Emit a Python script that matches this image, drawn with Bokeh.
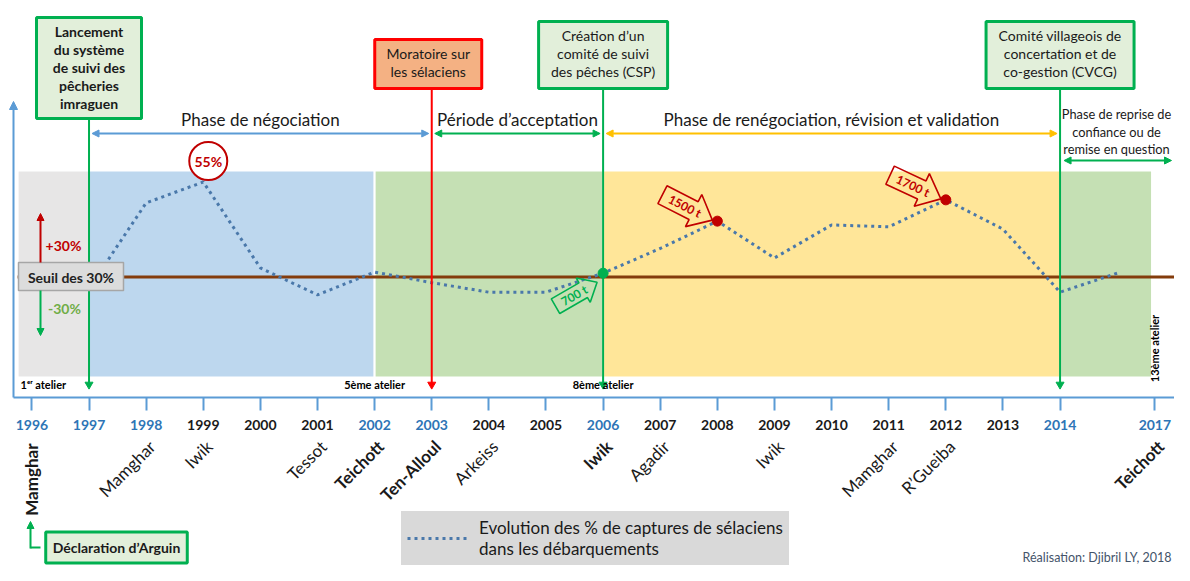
import math
from bokeh.plotting import figure
from bokeh.models import (Range1d, ColumnDataSource, LabelSet, Label, Arrow,
                          NormalHead, FixedTicker, Legend, LegendItem)
from bokeh.core.properties import value
from bokeh.embed import file_html
from bokeh.resources import INLINE

# ------------------------------------------------------------------ data
YEARS = [1997, 1998, 1999, 2000, 2001, 2002, 2003, 2004, 2005, 2006,
         2007, 2008, 2009, 2010, 2011, 2012, 2013, 2014, 2015]
SHARE_PCT = [27.0, 49.5, 55.0, 32.4, 25.3, 31.3, 28.5, 26.0, 26.0, 31.0,
             37.5, 44.7, 35.0, 43.7, 43.2, 50.3, 42.6, 26.0, 31.0]
THRESHOLD = 30
SERIES_LABEL = "Evolution des % de captures de sélaciens\ndans les débarquements"

TICK_YEARS = list(range(1996, 2015)) + [2017]
TICK_BLUE = [1996, 1997, 1998, 2002, 2003, 2006, 2014, 2017]

SITE_YEARS = [1996, 1998, 1999, 2001, 2002, 2003, 2004, 2006, 2007, 2009, 2011, 2012, 2017]
SITE_NAMES = ["Mamghar", "Mamghar", "Iwik", "Tessot", "Teichott", "Ten-Alloul", "Arkeiss",
              "Iwik", "Agadir", "Iwik", "Mamghar", "R’Gueiba", "Teichott"]
SITE_BOLD = [1, 0, 0, 0, 1, 1, 0, 1, 0, 0, 0, 0, 1]

PEAK_YEAR, PEAK_LABEL = 1999, "55%"
TONNAGE_YEARS = [2006, 2008, 2012]
TONNAGE_LABELS = ["700 t", "1500 t", "1700 t"]

PHASE_START = [1995.75, 1997, 2002, 2006, 2014]
PHASE_END = [1997, 2002, 2006, 2014, 2016.85]

PHASE_NAMES = ["Phase de négociation", "Période d’acceptation",
               "Phase de renégociation, révision et validation"]
LAST_PHASE_LINES = ["Phase de reprise de", "confiance ou de", "remise en question"]

EVENT_YEARS = [1997, 2003, 2006, 2014]
EVENT_LINES = [["Lancement", "du système", "de suivi des", "pêcheries", "imraguen"],
               ["Moratoire sur", "les sélaciens"],
               ["Création d’un", "comité de suivi", "des pêches (CSP)"],
               ["Comité villageois de", "concertation et de", "co-gestion (CVCG)"]]

WORKSHOP_LABELS = ["1ᵉʳ atelier", "5ème atelier", "8ème atelier", "13ème atelier"]
WORKSHOP_YEARS = [1996, 2002, 2006, 2017]

# ------------------------------------------------------------------ layout / style
FONT = "Lato"
FIG_W, FIG_H = 1174, 565
X_1996_PX, SLOT_PX = 31.4, 57.12
AXIS_PX, THR_PX, PX_PER_PCT = 397, 276.5, 3.8

BLUE_AX = "#5b9bd5"
GREEN = "#00b050"
RED = "#ff0000"
DARK_RED = "#c00000"
SERIES_COLOR = "#4a78aa"
TEXT = "#1a1a1a"
PHASE_FILL = ["#e7e6e6", "#bdd7ee", "#c5e0b4", "#ffe699", "#c5e0b4"]


def xpos(year):
    # the time axis is compressed after 2015
    return year - 1996 if year <= 2015 else 19 + (year - 2015) * 0.33


def xpx(year):
    return X_1996_PX + xpos(year) * SLOT_PX


def xdat(px):
    return (px - X_1996_PX) / SLOT_PX


def ypx(pct):
    return THR_PX - (pct - THRESHOLD) * PX_PER_PCT


def ydat(px):
    return THRESHOLD - (px - THR_PX) / PX_PER_PCT


PX = dict(x_range_name="px", y_range_name="px")

p = figure(width=FIG_W, height=FIG_H,
           x_range=Range1d(xdat(0), xdat(FIG_W)),
           y_range=Range1d(ydat(FIG_H), ydat(0)),
           x_axis_location="below", y_axis_location=None,
           min_border=0, min_border_left=0, min_border_right=0, min_border_top=0,
           min_border_bottom=0,
           output_backend="svg", toolbar_location=None,
           outline_line_color=None, background_fill_color="white")
p.extra_x_ranges = {"px": Range1d(0, FIG_W)}
p.extra_y_ranges = {"px": Range1d(FIG_H, 0)}
p.grid.visible = False

# x axis (ticks only, labels drawn below with their own colours)
ticks = [xpos(y) for y in TICK_YEARS]
ax = p.xaxis[0]
ax.fixed_location = ydat(AXIS_PX)
ax.bounds = (xdat(13), xdat(FIG_W))
ax.ticker = FixedTicker(ticks=ticks)
ax.major_label_overrides = {t: "" for t in ticks}
ax.axis_line_color = BLUE_AX
ax.axis_line_width = 2
ax.major_tick_line_color = BLUE_AX
ax.major_tick_line_width = 2
ax.major_tick_out = 13
ax.major_tick_in = 0
ax.minor_tick_line_color = None

# y axis arrow
p.add_layout(Arrow(end=NormalHead(size=8, fill_color=BLUE_AX, line_color=BLUE_AX),
                   x_start=13, y_start=AXIS_PX, x_end=13, y_end=101,
                   line_color=BLUE_AX, line_width=2, **PX))

# phase backgrounds
bg = p.quad(left=[xpos(s) for s in PHASE_START], right=[xpos(e) for e in PHASE_END],
            top=[170] * 5, bottom=[377] * 5, fill_color=PHASE_FILL,
            line_color="white", line_width=2, y_range_name="px")
bg.level = "image"

# threshold
p.line(x=[xpos(PHASE_START[0]), p.x_range.end], y=[THRESHOLD, THRESHOLD],
       line_color="#843c0c", line_width=3)

# data series
series = p.line(x=[xpos(y) for y in YEARS], y=SHARE_PCT, line_color=SERIES_COLOR,
                line_width=3, line_dash="3 4")

# event vertical lines with heads
ev_colors = [GREEN, RED, GREEN, GREEN]
box_bottom = [118, 88, 88, 88]
for yr, c, bb in zip(EVENT_YEARS, ev_colors, box_bottom):
    p.segment(x0=[xpx(yr)], y0=[bb], x1=[xpx(yr)], y1=[383], line_color=c,
              line_width=2, **PX)
    p.scatter(x=[xpx(yr)], y=[384], marker="inverted_triangle", size=8,
              fill_color=c, line_color=c, **PX)

# highlighted points
hl_colors = [GREEN, DARK_RED, DARK_RED]
p.scatter(x=[xpos(y) for y in TONNAGE_YEARS],
          y=[SHARE_PCT[YEARS.index(y)] for y in TONNAGE_YEARS],
          size=10, fill_color=hl_colors, line_color=hl_colors)


# tonnage block arrows
def block_arrow(tx, ty, ang, L, H, hb, hh):
    a = math.radians(ang)
    dx, dy = math.cos(a), -math.sin(a)
    nx, ny = -dy, dx
    pts = [(-L, -hb), (-H, -hb), (-H, -hh), (0, 0), (-H, hh), (-H, hb), (-L, hb)]
    return ([tx + u * dx + v * nx for u, v in pts],
            [ty + u * dy + v * ny for u, v in pts], dx, dy)


t_ang = [30, -27, -25]
t_dims = [(48, 16, 8.5, 14), (56, 21, 10, 18), (56, 21, 10, 18)]
t_tip = [(-6, 9), (-5, -1), (-5, -1)]
t_col = [GREEN, DARK_RED, DARK_RED]
for yr, lab, ang, dims, tip, c in zip(TONNAGE_YEARS, TONNAGE_LABELS, t_ang, t_dims,
                                      t_tip, t_col):
    tipx = xpx(yr) + tip[0]
    tipy = ypx(SHARE_PCT[YEARS.index(yr)]) + tip[1]
    xs, ys, dx, dy = block_arrow(tipx, tipy, ang, *dims)
    p.patch(x=xs, y=ys, fill_alpha=0, line_color=c, line_width=1.6, **PX)
    u = -dims[0] * 0.55
    p.text(x=[tipx + u * dx], y=[tipy + u * dy], text=[lab], angle=ang, angle_units="deg",
           text_align="center", text_baseline="middle", text_color=c,
           text_font=value(FONT), text_font_style="bold", text_font_size="12px", **PX)

# 55 % circle
pk_x, pk_y = xpx(PEAK_YEAR) + 5, ypx(SHARE_PCT[YEARS.index(PEAK_YEAR)]) - 21
p.scatter(x=[pk_x], y=[pk_y], size=38, fill_color="white", line_color=DARK_RED,
          line_width=2, **PX)
p.text(x=[pk_x], y=[pk_y], text=[PEAK_LABEL], text_align="center", text_baseline="middle",
       text_color=DARK_RED, text_font=value(FONT), text_font_style="bold",
       text_font_size="14px", **PX)

# seuil box & +/- arrows
p.quad(left=[18], right=[123], top=[262], bottom=[290], fill_color="#dcdcdc",
       line_color="#a6a6a6", line_width=1.5, **PX)
p.text(x=[70.5], y=[276.5], text=["Seuil des 30%"], text_align="center",
       text_baseline="middle", text_font=value(FONT), text_font_style="bold",
       text_font_size="14px", text_color="#222222", **PX)
p.add_layout(Arrow(end=NormalHead(size=7, fill_color=DARK_RED, line_color=DARK_RED),
                   x_start=40, y_start=262, x_end=40, y_end=213,
                   line_color=DARK_RED, line_width=2, **PX))
p.add_layout(Arrow(end=NormalHead(size=7, fill_color=GREEN, line_color=GREEN),
                   x_start=40, y_start=290, x_end=40, y_end=335,
                   line_color=GREEN, line_width=2, **PX))
p.text(x=[63, 64], y=[245, 308], text=["+30%", "-30%"], text_align="center",
       text_baseline="middle", text_color=[DARK_RED, "#70ad47"], text_font=value(FONT),
       text_font_style="bold", text_font_size="14px", **PX)

# event boxes
box_top = [17, 39, 21, 21]
box_w = [105, 107, 129, 148]
box_dx = [0, -3.5, 0, 0]
box_fill = ["#e2efda", "#f4b183", "#e2efda", "#e2efda"]
box_line = [GREEN, RED, GREEN, GREEN]
box_style = ["bold", "normal", "normal", "normal"]
for yr, lines, top, bot, w, ddx, f, lc, st in zip(EVENT_YEARS, EVENT_LINES, box_top,
                                                   box_bottom, box_w, box_dx, box_fill,
                                                   box_line, box_style):
    cx = xpx(yr) + ddx
    p.quad(left=[cx - w / 2], right=[cx + w / 2], top=[top], bottom=[bot],
           fill_color=f, line_color=lc, line_width=3, **PX)
    p.text(x=[cx] * len(lines), y=[top + 14 + 18 * i for i in range(len(lines))],
           text=lines, text_align="center", text_baseline="middle",
           text_font=value(FONT), text_font_style=st, text_font_size="14px",
           text_color=TEXT, **PX)

# phase arrows and names
ph_col = [BLUE_AX, GREEN, "#ffc000"]
ph_span = [(1997, 2003), (2003, 2006), (2006, 2014)]
for (a0, a1), c, name in zip(ph_span, ph_col, PHASE_NAMES):
    x0, x1 = xpx(a0) + 3, xpx(a1) - 3
    p.add_layout(Arrow(start=NormalHead(size=7, fill_color=c, line_color=c),
                       end=NormalHead(size=7, fill_color=c, line_color=c),
                       x_start=x0, y_start=133, x_end=x1, y_end=133,
                       line_color=c, line_width=2, **PX))
    p.text(x=[(xpx(a0) + xpx(a1)) / 2], y=[119], text=[name], text_align="center",
           text_baseline="middle", text_font=value(FONT), text_font_size="17px",
           text_color=TEXT, **PX)
p.add_layout(Arrow(start=NormalHead(size=7, fill_color=GREEN, line_color=GREEN),
                   end=NormalHead(size=7, fill_color=GREEN, line_color=GREEN),
                   x_start=xpx(2014) + 4, y_start=160, x_end=FIG_W - 3, y_end=160,
                   line_color=GREEN, line_width=2, **PX))
p.text(x=[1116] * 3, y=[113, 131, 148], text=LAST_PHASE_LINES, text_align="center",
       text_baseline="middle", text_font=value(FONT), text_font_size="12.8px",
       text_color=TEXT, **PX)

# workshop labels
p.text(x=[20], y=[384], text=[WORKSHOP_LABELS[0]], text_align="left",
       text_baseline="middle", text_font=value(FONT), text_font_style="bold",
       text_font_size="11px", **PX)
p.text(x=[xpx(WORKSHOP_YEARS[1]), xpx(WORKSHOP_YEARS[2])], y=[384, 384],
       text=WORKSHOP_LABELS[1:3], text_align="center", text_baseline="middle",
       text_font=value(FONT), text_font_style="bold", text_font_size="11px", **PX)
p.text(x=[xpx(WORKSHOP_YEARS[3])], y=[348], text=[WORKSHOP_LABELS[3]], angle=90,
       angle_units="deg", text_align="center", text_baseline="middle",
       text_font=value(FONT), text_font_style="bold", text_font_size="11px", **PX)

# year labels below the axis
yl_src = ColumnDataSource(dict(
    x=ticks, y=[424] * len(ticks), text=[str(y) for y in TICK_YEARS],
    tcolor=["#2e75b6" if y in TICK_BLUE else TEXT for y in TICK_YEARS]))
p.add_layout(LabelSet(x="x", y="y", text="text", text_color="tcolor", source=yl_src,
                      y_range_name="px", text_align="center", text_baseline="middle",
                      text_font=value(FONT), text_font_style="bold",
                      text_font_size="14px"))

# site names
angles = [90 if y == 1996 else 45 for y in SITE_YEARS]
site_src = ColumnDataSource(dict(
    x=[xpos(y) for y in SITE_YEARS], y=[443] * len(SITE_YEARS), text=SITE_NAMES,
    angle=angles, xoff=[0 if a == 90 else 6 for a in angles],
    style=["bold" if b else "normal" for b in SITE_BOLD]))
p.add_layout(LabelSet(x="x", y="y", text="text", angle="angle", angle_units="deg",
                      x_offset="xoff", text_font_style="style", source=site_src,
                      y_range_name="px", text_align="right", text_baseline="middle",
                      text_font=value(FONT), text_font_size="17px", text_color=TEXT))

# Déclaration d'Arguin
p.add_layout(Label(x=116, y=547, text="Déclaration d’Arguin", text_align="center",
                   text_baseline="middle", text_font=FONT, text_font_style="bold",
                   text_font_size="14px", text_color=TEXT,
                   background_fill_color="#e2efda", border_line_color=GREEN,
                   border_line_width=3, padding=7, **PX))
p.add_layout(Arrow(end=None, x_start=40, y_start=547, x_end=30, y_end=547,
                   line_color=GREEN, line_width=2, **PX))
p.add_layout(Arrow(end=NormalHead(size=7, fill_color=GREEN, line_color=GREEN),
                   x_start=30, y_start=548, x_end=30, y_end=521,
                   line_color=GREEN, line_width=2, **PX))

# credit
p.add_layout(Label(x=FIG_W - 3, y=FIG_H - 1, text="Réalisation: Djibril LY, 2018",
                   text_align="right", text_baseline="bottom", text_font=FONT,
                   text_font_size="12.5px", text_color="#44546a", **PX))

# legend
legend = Legend(items=[LegendItem(label=SERIES_LABEL, renderers=[series])],
                location=(401, 0),
                background_fill_color="#d9d9d9", background_fill_alpha=1,
                border_line_alpha=0, padding=6, margin=0, glyph_width=63,
                label_standoff=9, label_text_font=FONT, label_text_font_size="17px",
                label_text_line_height=1.1, label_text_color=TEXT)
p.add_layout(legend)

open("out.html", "w").write(file_html(p, INLINE))
